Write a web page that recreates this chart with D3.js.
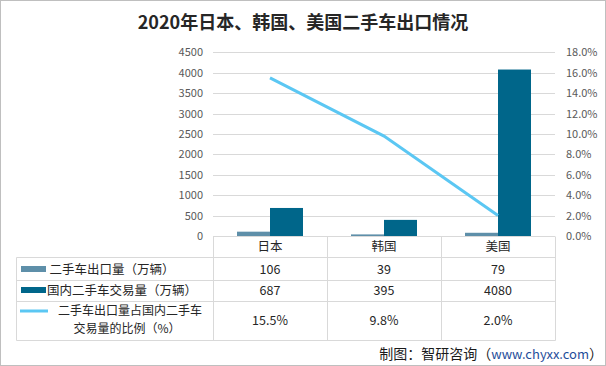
<!DOCTYPE html>
<html><head><meta charset="utf-8">
<script src="https://cdn.jsdelivr.net/npm/d3@7"></script>
<style>body{margin:0;background:#fff}svg{display:block}</style>
</head><body><svg id="c" width="606" height="366"></svg>
<script>
const categories = ["日本", "韩国", "美国"];
const exportVol = [106, 39, 79];
const domesticVol = [687, 395, 4080];
const ratio = [15.5, 9.8, 2.0];
const ratioLabels = ["15.5%", "9.8%", "2.0%"];
const leftTicks = [0, 500, 1000, 1500, 2000, 2500, 3000, 3500, 4000, 4500];
const rightTicks = [0, 2, 4, 6, 8, 10, 12, 14, 16, 18];
const seriesNames = ["二手车出口量（万辆）", "国内二手车交易量（万辆）", ["二手车出口量占国内二手车", "交易量的比例（%）"]];

const svg = d3.select("#c");
const font = "'Noto Sans CJK SC','Microsoft YaHei',sans-serif";
const cLight = "#5E8FA9", cDark = "#00668A", cLine = "#5BC7F3", grid = "#D9D9D9";
const L = 213, R = 555, T = 52.4, B = 236;

svg.append("rect").attr("x", 0.5).attr("y", 0.5).attr("width", 605).attr("height", 365)
  .attr("fill", "#fff").attr("stroke", "#BFBFBF");

svg.append("text").attr("x", 303).attr("y", 29).attr("text-anchor", "middle")
  .attr("font-family", font).attr("font-weight", "bold").attr("font-size", 18).attr("fill", "#262626")
  .text("2020年日本、韩国、美国二手车出口情况");

const x = d3.scaleBand().domain(categories).range([L, R]);
const xi = d3.scaleBand().domain(["e", "d"]).range([24, x.bandwidth() - 24]);
const yL = d3.scaleLinear().domain([0, 4500]).range([B, T]);
const yR = d3.scaleLinear().domain([0, 18]).range([B, T]);

// gridlines
svg.append("g").selectAll("line").data(leftTicks.slice(1)).join("line")
  .attr("x1", L).attr("x2", R).attr("y1", d => Math.round(yL(d)) + 0.5).attr("y2", d => Math.round(yL(d)) + 0.5)
  .attr("stroke", grid);

// axes
const ax = svg.append("g").attr("transform", `translate(${L},0)`)
  .call(d3.axisLeft(yL).tickValues(leftTicks).tickSize(0).tickPadding(10).tickFormat(d3.format("d")));
const axR = svg.append("g").attr("transform", `translate(${R},0)`)
  .call(d3.axisRight(yR).tickValues(rightTicks).tickSize(0).tickPadding(11).tickFormat(d => d.toFixed(1) + "%"));
[ax, axR].forEach(a => {
  a.select(".domain").remove();
  a.selectAll("text").attr("font-family", font).attr("font-size", 11).attr("fill", "#595959");
});

// bars
const bars = svg.append("g");
bars.selectAll(".e").data(categories).join("rect")
  .attr("x", (d) => x(d) + xi("e")).attr("width", xi.bandwidth())
  .attr("y", (d, i) => yL(exportVol[i])).attr("height", (d, i) => B - yL(exportVol[i]))
  .attr("fill", cLight);
bars.selectAll(".d").data(categories).join("rect")
  .attr("x", (d) => x(d) + xi("d")).attr("width", xi.bandwidth())
  .attr("y", (d, i) => yL(domesticVol[i])).attr("height", (d, i) => B - yL(domesticVol[i]))
  .attr("fill", cDark);

// line
svg.append("path").datum(categories)
  .attr("d", d3.line().x(d => x(d) + x.bandwidth() / 2).y((d, i) => yR(ratio[i])))
  .attr("fill", "none").attr("stroke", cLine).attr("stroke-width", 3);

// table
const rows = [236.5, 257.5, 280.5, 301.5, 340.5];
const tL = 16.5;
const tg = svg.append("g").attr("stroke", grid).attr("fill", "none");
tg.append("line").attr("x1", L).attr("x2", R).attr("y1", B + 0.5).attr("y2", B + 0.5);
rows.slice(1).forEach(y => tg.append("line").attr("x1", tL).attr("x2", R + 0.5).attr("y1", y).attr("y2", y));
tg.append("line").attr("x1", tL).attr("x2", tL).attr("y1", rows[1]).attr("y2", rows[4]);
[L, ...categories.map(c => x(c) + x.bandwidth())].forEach(xx => {
  tg.append("line").attr("x1", Math.round(xx) + 0.5).attr("x2", Math.round(xx) + 0.5).attr("y1", rows[0]).attr("y2", rows[4]);
});

const txt = svg.append("g").attr("font-family", font).attr("font-size", 12.5).attr("fill", "#262626").attr("text-anchor", "middle");
const cx = d => x(d) + x.bandwidth() / 2;
txt.selectAll(".h").data(categories).join("text").attr("x", cx).attr("y", 251).text(d => d);
txt.selectAll(".r1").data(categories).join("text").attr("x", cx).attr("y", 273.5).text((d, i) => exportVol[i]);
txt.selectAll(".r2").data(categories).join("text").attr("x", cx).attr("y", 295).text((d, i) => domesticVol[i]);
txt.selectAll(".r3").data(categories).join("text").attr("x", cx).attr("y", 325).text((d, i) => ratioLabels[i]);

// legend keys
svg.append("rect").attr("x", 21).attr("y", 266).attr("width", 25).attr("height", 6).attr("fill", cLight);
svg.append("rect").attr("x", 21).attr("y", 287).attr("width", 25).attr("height", 6).attr("fill", cDark);
svg.append("line").attr("x1", 20).attr("x2", 48).attr("y1", 311).attr("y2", 311).attr("stroke", cLine).attr("stroke-width", 3);
txt.append("text").attr("x", 112).attr("y", 273.5).text(seriesNames[0]);
txt.append("text").attr("x", 122).attr("y", 295).text(seriesNames[1]);
txt.append("text").attr("x", 130).attr("y", 314.5).attr("font-size", 12).text(seriesNames[2][0]);
txt.append("text").attr("x", 127).attr("y", 332.5).attr("font-size", 12).text(seriesNames[2][1]);

// source
const src = svg.append("text").attr("x", 603).attr("y", 359).attr("text-anchor", "end")
  .attr("font-family", font).attr("font-size", 14).attr("fill", "#1a1a1a");
src.append("tspan").text("制图：智研咨询（");
src.append("tspan").attr("fill", "#1F4E9A").attr("font-size", 13).text("www.chyxx.com");
src.append("tspan").text("）");
</script></body></html>
